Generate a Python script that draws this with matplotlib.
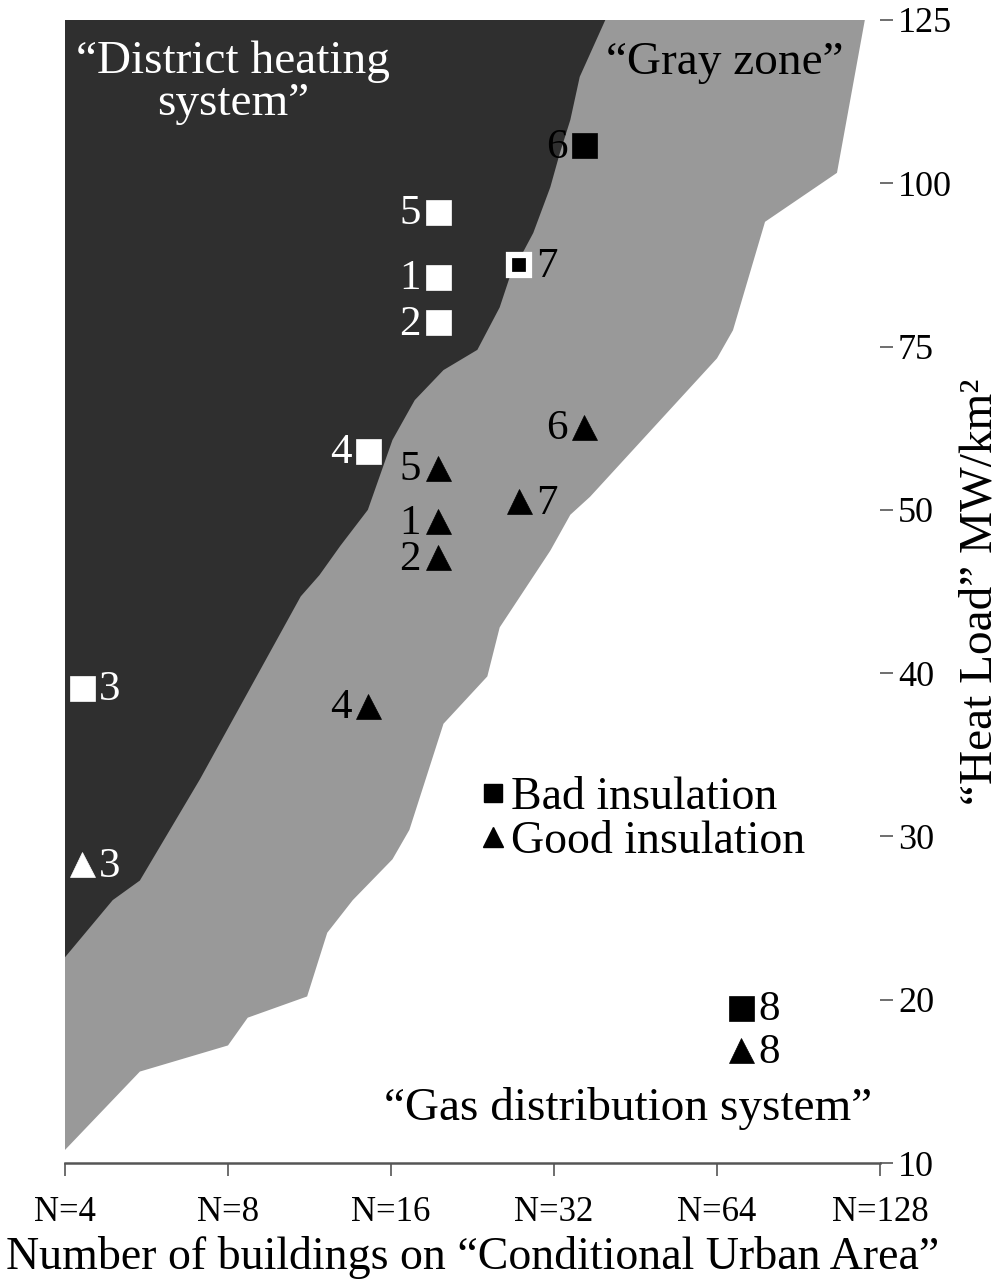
import numpy as np
import matplotlib
matplotlib.use("Agg")
import matplotlib.pyplot as plt
from matplotlib.lines import Line2D

plt.rcParams['font.family'] = ['Liberation Serif', 'DejaVu Serif']

# ---------------- data ----------------
x_ticks = [4, 8, 16, 32, 64, 128]
x_ticklabels = ["N=4", "N=8", "N=16", "N=32", "N=64", "N=128"]
y_ticks = [10, 20, 30, 40, 50, 75, 100, 125]
y_ticklabels = ["10", "20", "30", "40", "50", "75", "100", "125"]

# boundary between "District heating" zone and "Gray zone" (N, heat load)
dh_boundary_N = [39.8, 35.7, 34.3, 32.8, 31.5, 29.3, 26.5, 25.4, 23.1, 20.0,
                 17.7, 16.1, 14.5, 12.9, 11.8, 10.9, 7.1, 5.5, 4.9, 4.0]
dh_boundary_H = [125, 116.3, 109.7, 104.6, 99.4, 92.4, 85.6, 81.0, 74.5, 71.4,
                 66.8, 60.7, 50.0, 47.8, 46.0, 44.7, 33.5, 27.3, 26.1, 22.6]

# boundary between "Gray zone" and "Gas distribution" zone (N, heat load)
gz_boundary_N = [120, 106.6, 78.5, 68.5, 64.0, 37.3, 34.3, 31.5, 25.4, 24.1,
                 20.0, 17.3, 16.1, 13.6, 12.2, 11.2, 8.7, 8.0, 5.5, 4.0]
gz_boundary_H = [125, 101.6, 94.1, 77.5, 73.2, 52.0, 49.7, 47.5, 42.8, 39.8,
                 36.9, 30.4, 28.6, 26.1, 24.1, 20.2, 18.9, 17.2, 15.6, 10.8]

case_labels = ["1", "2", "3", "4", "5", "6", "7", "8"]
case_N = [19.5, 19.5, 4.3, 14.5, 19.5, 36.4, 27.6, 71.0]
bad_H = [85.7, 78.7, 39.1, 59.0, 95.6, 105.8, 87.5, 19.5]
good_H = [49.3, 47.1, 28.3, 38.0, 56.4, 62.7, 51.3, 16.9]

legend_labels = ["Bad insulation", "Good insulation"]

# ---------------- styles ----------------
DARK = "#2f2f2f"
GRAY = "#999999"
bad_face = ["white", "white", "white", "white", "white", "black", "black", "black"]
bad_edge = ["white", "white", "white", "white", "white", "black", "white", "black"]
bad_text = ["white", "white", "white", "white", "white", "black", "black", "black"]
good_face = ["black", "black", "white", "black", "black", "black", "black", "black"]
good_text = ["black", "black", "white", "black", "black", "black", "black", "black"]
label_side = [-1, -1, 1, -1, -1, -1, 1, 1]

# ---------------- figure ----------------
fig = plt.figure(figsize=(10.04, 12.87), dpi=100)
ax = fig.add_axes([65 / 1004, 124 / 1287, 815 / 1004, 1143 / 1287])

idx = np.arange(len(y_ticks), dtype=float)


def fwd(v):
    return np.interp(v, y_ticks, idx)


def inv(v):
    return np.interp(v, idx, y_ticks)


ax.set_xscale('log', base=2)
ax.set_yscale('function', functions=(fwd, inv))
ax.set_xlim(x_ticks[0], x_ticks[-1])
ax.set_ylim(y_ticks[0], y_ticks[-1])

# gray zone: everything left of gray/gas boundary
gx = [x_ticks[0]] + gz_boundary_N
gy = [y_ticks[-1]] + gz_boundary_H
ax.fill(gx, gy, color=GRAY, lw=0, zorder=1)
# district heating zone
dx = [x_ticks[0]] + dh_boundary_N
dy = [y_ticks[-1]] + dh_boundary_H
ax.fill(dx, dy, color=DARK, lw=0, zorder=2)

# markers
for i, lab in enumerate(case_labels):
    if lab == "7":
        ax.plot(case_N[i], bad_H[i], 's', ms=14, mfc=bad_face[i], mec=bad_edge[i],
                mew=4.5, zorder=5)
    else:
        ax.plot(case_N[i], bad_H[i], 's', ms=18, mfc=bad_face[i], mec=bad_edge[i],
                mew=0.5, zorder=5)
    ax.plot(case_N[i], good_H[i], '^', ms=18, mfc=good_face[i], mec=good_face[i],
            mew=0.5, zorder=5)
    s = label_side[i]
    ha = 'right' if s < 0 else 'left'
    ax.annotate(lab, (case_N[i], bad_H[i]), xytext=(s * 12, -1.5),
                textcoords='offset points', ha=ha, va='center',
                fontsize=31, color=bad_text[i], zorder=6)
    ax.annotate(lab, (case_N[i], good_H[i]), xytext=(s * 12, -1.5),
                textcoords='offset points', ha=ha, va='center',
                fontsize=31, color=good_text[i], zorder=6)

# zone labels
ax.text(0.206, 0.945, "\u201cDistrict heating\nsystem\u201d", transform=ax.transAxes,
        ha='center', va='center', color='white', fontsize=34, linespacing=1.0, zorder=6)
ax.text(0.81, 0.963, "\u201cGray zone\u201d", transform=ax.transAxes,
        ha='center', va='center', color='black', fontsize=34, zorder=6)
ax.text(0.691, 0.048, "\u201cGas distribution system\u201d", transform=ax.transAxes,
        ha='center', va='center', color='black', fontsize=34, zorder=6)

# legend
handles = [Line2D([], [], ls='none', marker='s', ms=13, mfc='black', mec='black'),
           Line2D([], [], ls='none', marker='^', ms=14, mfc='black', mec='black')]
leg = ax.legend(handles, legend_labels, loc='upper left', bbox_to_anchor=(0.51, 0.338),
                frameon=False, fontsize=33, handlelength=0.55, handletextpad=0.12,
                labelspacing=0.02, borderaxespad=0, borderpad=0)
leg.set_zorder(7)

# axes styling
for side in ['left', 'top', 'right']:
    ax.spines[side].set_visible(False)
ax.spines['bottom'].set_color('#555555')
ax.spines['bottom'].set_linewidth(1.8)
ax.spines['bottom'].set_zorder(8)

ax.set_xticks(x_ticks)
ax.set_xticklabels(x_ticklabels)
ax.xaxis.set_minor_locator(matplotlib.ticker.NullLocator())
ax.tick_params(axis='x', direction='out', length=9, width=1.2, color='#555555',
               labelsize=25, pad=15)

ax.yaxis.tick_right()
ax.yaxis.set_label_position('right')
ax.set_yticks(y_ticks)
ax.set_yticklabels(y_ticklabels)
ax.yaxis.set_minor_locator(matplotlib.ticker.NullLocator())
ax.tick_params(axis='y', direction='out', length=9, width=1.2, color='#555555',
               labelsize=26, pad=4)

ax.set_xlabel("Number of buildings on \u201cConditional Urban Area\u201d", fontsize=33,
              labelpad=5)
ax.set_ylabel("\u201cHeat Load\u201d MW/km\u00b2", fontsize=34, labelpad=5)

fig.savefig("out.png", dpi=100)
